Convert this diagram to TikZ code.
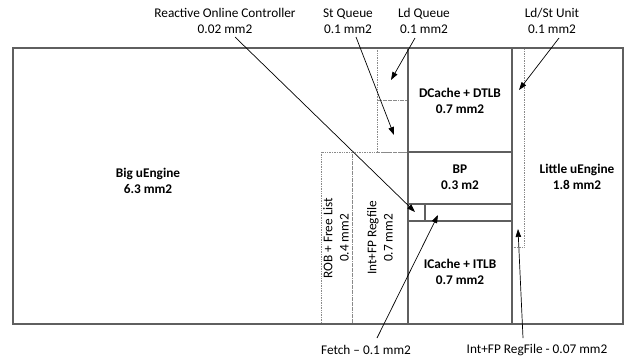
\documentclass[tikz,border=0pt]{standalone}
\usepackage{fontspec}
\setmainfont{Carlito}
\usetikzlibrary{arrows.meta}
\definecolor{boxgray}{HTML}{5F5F5F}
\definecolor{dotgray}{HTML}{8A8A8A}
\tikzset{
  solidline/.style={draw=boxgray, line width=1.7pt},
  dotbox/.style={draw=dotgray, line width=0.7pt, densely dotted},
  lbl/.style={align=center, font=\fontsize{13.3}{16.3}\selectfont, inner sep=0pt},
  blbl/.style={align=center, font=\fontsize{13.3}{16.3}\selectfont\bfseries, inner sep=0pt},
  arr/.style={draw=black, line width=0.7pt, -{Triangle[length=8pt,width=5.5pt]}}
}
\begin{document}
\begin{tikzpicture}[x=1pt,y=-1pt]
\useasboundingbox (0,0) rectangle (628,360);
% dotted areas
\draw[dotbox] (377,48) rectangle (408,100);
\draw[dotbox] (377,100) rectangle (408,152);
\draw[dotbox] (512,48) rectangle (524,247);
\draw[dotbox] (321,152) rectangle (352,324);
\draw[dotbox] (352,152) rectangle (408,324);
% solid boxes
\draw[solidline] (13,48) rectangle (623,324);
\draw[solidline] (408,48) -- (408,324);
\draw[solidline] (512,48) -- (512,324);
\draw[solidline] (408,152) -- (512,152);
\draw[solidline] (408,204) -- (512,204);
\draw[solidline] (408,221) -- (512,221);
\draw[solidline] (425,204) -- (425,221);
% box labels
\node[blbl] (big) at (148,181) {Big uEngine\\6.3 mm2};
\node[blbl] (little) at (577,177) {Little uEngine\\1.8 mm2};
\node[blbl] (dcache) at (460,101) {DCache + DTLB\\0.7 mm2};
\node[blbl] (bp) at (460,177) {BP\\0.3 m2};
\node[blbl] (icache) at (460,272) {ICache + ITLB\\0.7 mm2};
\node[lbl, rotate=90] (rob) at (336,238) {ROB + Free List\\0.4 mm2};
\node[lbl, rotate=90] (intfp) at (380,238) {Int+FP Regfile\\0.7 mm2};
% callout labels
\node[lbl] (roc) at (225,21) {Reactive Online Controller\\0.02 mm2};
\node[lbl] (stq) at (348,21) {St Queue\\0.1 mm2};
\node[lbl] (ldq) at (424,21) {Ld Queue\\0.1 mm2};
\node[lbl] (ldst) at (552,21) {Ld/St Unit\\0.1 mm2};
\node[lbl] (fetchlbl) at (366,350) {Fetch -- 0.1 mm2};
\node[lbl] (rflbl) at (537,350) {Int+FP RegFile - 0.07 mm2};
% arrow targets
\coordinate (rocT) at (415,212);
\coordinate (stqT) at (394,135);
\coordinate (ldqT) at (391,80);
\coordinate (ldstT) at (519,90);
\coordinate (fetchT) at (438,215);
\coordinate (rfT) at (518,229);
% arrow sources
\coordinate (rocS) at (235,37);
\coordinate (stqS) at (356,37);
\coordinate (ldqS) at (415,38);
\coordinate (ldstS) at (559,38);
\coordinate (fetchS) at (377,338);
\coordinate (rfS) at (523,338);
\draw[arr] (rocS) -- (rocT);
\draw[arr] (stqS) -- (stqT);
\draw[arr] (ldqS) -- (ldqT);
\draw[arr] (ldstS) -- (ldstT);
\draw[arr] (fetchS) -- (fetchT);
\draw[arr] (rfS) -- (rfT);
\end{tikzpicture}
\end{document}
